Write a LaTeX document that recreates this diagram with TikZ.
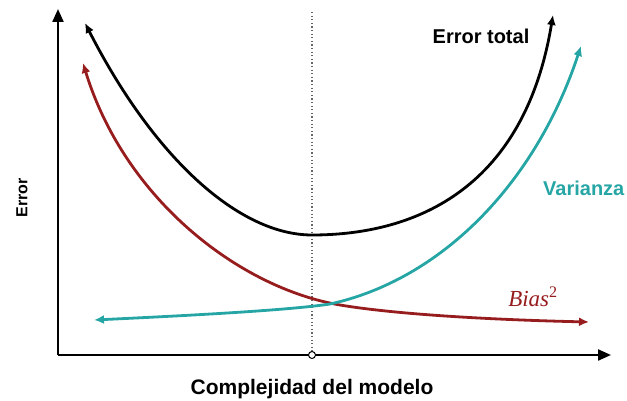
\documentclass[tikz,border=0pt]{standalone}
\usepackage{fontspec}
\setmainfont{Liberation Sans}
\newfontfamily\biasfont{Liberation Serif}
\usepackage{xcolor}
\usetikzlibrary{arrows.meta}
\definecolor{biasred}{RGB}{150,28,30}
\definecolor{varteal}{RGB}{38,165,165}
\tikzset{
    axis/.style={line width=2.2pt, -{Triangle[length=13pt, width=11pt]}},
    curve/.style={line width=2.8pt, {Latex[length=10pt, width=9pt]}-{Latex[length=10pt, width=9pt]}},
    caption/.style={font=\bfseries\fontsize{20}{24}\selectfont, inner sep=0pt}
}

\begin{document}
\begin{tikzpicture}[x=1pt, y=-1pt]
            \useasboundingbox (0,0) rectangle (627,401);

            % axes
            \coordinate (origin) at (58,355);
            \draw[axis] (origin) -- (58,9);
            \draw[axis] (origin) -- (611,355);

            % optimum
            \draw[gray!80!black, line width=1.2pt, dash pattern=on 1.2pt off 2.4pt] (312,12) -- (312,352);
            \node (opt) [circle, draw, fill=white, line width=1pt, inner sep=0pt, minimum size=7pt] at (312,355) {};

            % curves
            \draw[curve, black] (85,23) .. controls (155,160) and (240,235) .. (312,235)
                .. controls (420,235) and (525,185) .. (553,15);
            \draw[curve, biasred] (83,63) .. controls (125,200) and (240,288) .. (340,305)
                .. controls (400,315) and (500,320) .. (589,322);
            \draw[curve, varteal] (94,320) .. controls (200,315) and (290,310) .. (330,304)
                .. controls (440,280) and (535,185) .. (581,46);

            % labels
            \node (total) [caption] at (481,36) {Error total};
            \node (var) [caption, text=varteal, anchor=west] at (543,188) {Varianza};
            \node (bias) [inner sep=0pt, text=biasred, font=\biasfont\fontsize{23}{26}\selectfont] at (533,297) {\textit{Bias}\textsuperscript{2}};
            \node (ylab) [caption, font=\bfseries\fontsize{16}{19}\selectfont, rotate=90] at (22,198) {Error};
            \node (xlab) [caption, font=\bfseries\fontsize{21}{25}\selectfont] at (312,389) {Complejidad del modelo};
        \end{tikzpicture}
\end{document}
